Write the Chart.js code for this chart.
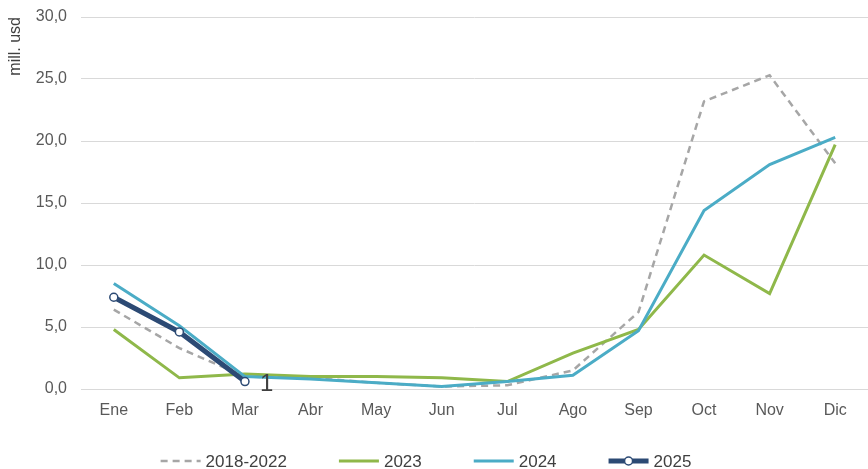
<!DOCTYPE html>
<html>
<head>
<meta charset="utf-8">
<script src="https://cdn.jsdelivr.net/npm/chart.js@4"></script>
<style>
  html, body { margin: 0; padding: 0; background: #fff; }
  #wrap { width: 868px; height: 469px; position: relative; }
</style>
</head>
<body>
<div id="wrap"><canvas id="chart"></canvas></div>
<script>
// data
const months = ["Ene", "Feb", "Mar", "Abr", "May", "Jun", "Jul", "Ago", "Sep", "Oct", "Nov", "Dic"];
const avg1822 = [6.4, 3.3, 1.0, 0.9, 0.5, 0.2, 0.3, 1.5, 6.2, 23.2, 25.3, 18.2];
const y2023 = [4.8, 0.9, 1.2, 1.0, 1.0, 0.9, 0.6, 2.9, 4.8, 10.8, 7.7, 19.7];
const y2024 = [8.5, 5.1, 1.0, 0.8, 0.5, 0.2, 0.6, 1.1, 4.7, 14.4, 18.1, 20.3];
const y2025 = [7.4, 4.6, 0.6];
const yTicks = [0, 5, 10, 15, 20, 25, 30];

const FONT = "'Liberation Sans', Arial, sans-serif";

// stretch the plot to the right edge (chart.js keeps a few px there)
const fitRight = {
  id: "fitRight",
  afterLayout(chart) {
    const area = chart.chartArea, x = chart.scales.x;
    if (area.right < chart.width) {
      area.right = chart.width;
      area.width = area.right - area.left;
      x.right = chart.width;
      x.width = x.right - x.left;
      x.configure();
    }
  }
};

// bottom legend (line samples + names) and the data label on the last 2025 point
const extras = {
  id: "extras",
  afterDraw(chart) {
    const ctx = chart.ctx;
    const sets = chart.data.datasets;
    const sample = 40, textGap = 5, itemGap = 52;
    ctx.save();
    ctx.font = "17px " + FONT;
    const widths = sets.map(ds => sample + textGap + ctx.measureText(ds.label).width);
    const total = widths.reduce((a, b) => a + b, 0) + itemGap * (sets.length - 1);
    let x = 426 - total / 2;
    const y = 461;
    sets.forEach((ds, i) => {
      ctx.save();
      ctx.strokeStyle = ds.borderColor;
      ctx.lineWidth = ds.borderWidth;
      ctx.setLineDash(ds.borderDash || []);
      ctx.beginPath();
      ctx.moveTo(x, y);
      ctx.lineTo(x + sample, y);
      ctx.stroke();
      if (ds.pointRadius > 0) {
        ctx.setLineDash([]);
        ctx.fillStyle = ds.pointBackgroundColor;
        ctx.lineWidth = ds.pointBorderWidth;
        ctx.beginPath();
        ctx.arc(x + sample / 2, y, ds.pointRadius, 0, Math.PI * 2);
        ctx.fill();
        ctx.stroke();
      }
      ctx.restore();
      ctx.fillStyle = "#404040";
      ctx.textAlign = "left";
      ctx.textBaseline = "middle";
      ctx.fillText(ds.label, x + sample + textGap, y + 1);
      x += widths[i] + itemGap;
    });
    ctx.restore();

    // label "1" next to Mar 2025
    const meta = chart.getDatasetMeta(3);
    const last = meta.data[y2025.length - 1];
    if (last) {
      ctx.save();
      ctx.fillStyle = "#404040";
      ctx.font = "24px " + FONT;
      ctx.textAlign = "left";
      ctx.textBaseline = "middle";
      ctx.fillText(String(Math.round(y2025[y2025.length - 1])), last.x + 15, last.y + 3);
      ctx.restore();
    }
  }
};

const ctx = document.getElementById("chart").getContext("2d");
new Chart(ctx, {
  type: "line",
  data: {
    labels: months,
    datasets: [
      { label: "2018-2022", data: avg1822, borderColor: "#a6a6a6", borderWidth: 2.5, borderDash: [7, 5], pointRadius: 0, order: 3 },
      { label: "2023", data: y2023, borderColor: "#8fb84a", borderWidth: 3, pointRadius: 0, order: 2 },
      { label: "2024", data: y2024, borderColor: "#4bacc6", borderWidth: 3, pointRadius: 0, order: 1 },
      { label: "2025", data: y2025, borderColor: "#2c4a74", borderWidth: 5, pointRadius: 4,
        pointBackgroundColor: "#ffffff", pointBorderColor: "#2c4a74", pointBorderWidth: 1.5, order: 0 }
    ]
  },
  options: {
    responsive: true,
    maintainAspectRatio: false,
    animation: false,
    layout: { padding: { top: 17, right: 0, left: 0, bottom: 38 } },
    elements: { line: { tension: 0 } },
    plugins: {
      tooltip: { enabled: false },
      legend: { display: false }
    },
    scales: {
      x: {
        offset: true,
        grid: { display: false, drawTicks: false, offset: true },
        border: { color: "#d9d9d9", width: 1 },
        ticks: { color: "#595959", font: { family: FONT, size: 16 }, padding: 12 },
        afterFit: (s) => {
          s.height = 42;
          s.paddingLeft = 0; s.paddingRight = 0; s.paddingTop = 0; s.paddingBottom = 0;
        }
      },
      y: {
        min: 0,
        max: 30,
        afterBuildTicks: (s) => { s.ticks = yTicks.map(v => ({ value: v })); },
        grid: { color: "#d9d9d9", drawTicks: false },
        border: { display: false },
        ticks: {
          color: "#595959",
          font: { family: FONT, size: 16 },
          padding: 14,
          callback: (v) => v.toFixed(1).replace(".", ",")
        },
        title: {
          display: true,
          text: "mill. usd",
          align: "end",
          color: "#404040",
          font: { family: FONT, size: 16 },
          padding: { top: 6, bottom: 0 }
        },
        afterFit: (s) => {
          s.width = 81;
          s.paddingLeft = 0; s.paddingRight = 0; s.paddingTop = 0; s.paddingBottom = 0;
        }
      }
    }
  },
  plugins: [fitRight, extras]
});
</script>
</body>
</html>
